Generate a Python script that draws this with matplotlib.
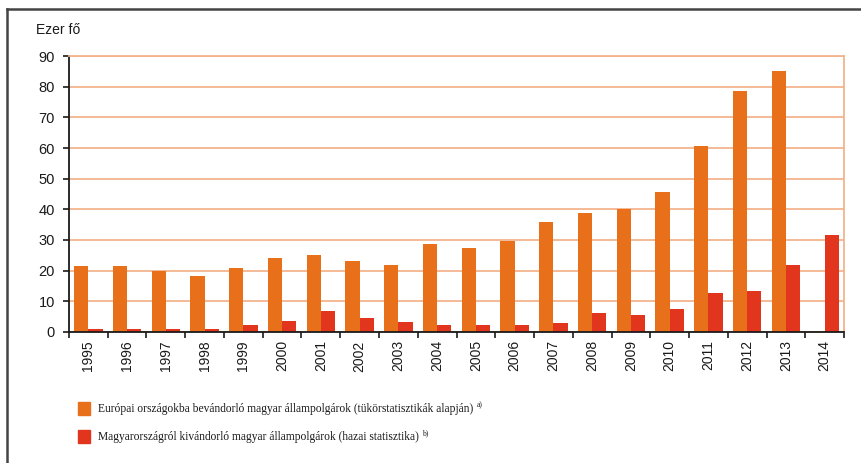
import numpy as np
import matplotlib.pyplot as plt
from matplotlib.patches import Rectangle
from matplotlib.lines import Line2D

years = [str(y) for y in range(1995, 2015)]
# thousand persons
europe_in = [21.5, 21.5, 20.0, 18.3, 20.9, 24.1, 25.2, 23.0, 21.9, 28.6,
             27.4, 29.8, 35.9, 38.7, 40.0, 45.6, 60.6, 78.7, 85.2, np.nan]
hu_out = [1.1, 1.0, 1.0, 1.0, 2.4, 3.7, 6.7, 4.6, 3.3, 2.4,
          2.4, 2.4, 2.8, 6.3, 5.4, 7.6, 12.8, 13.3, 21.9, 31.7]

label_in = 'Európai országokba bevándorló magyar állampolgárok (tükörstatisztikák alapján)'
label_out = 'Magyarországról kivándorló magyar állampolgárok (hazai statisztika)'

orange = '#e9701a'
red = '#e1351e'
grid_col = '#f3b48e'
ink = '#1a1a1a'

fig = plt.figure(figsize=(8.61, 4.63), dpi=100)
ax = fig.add_axes([0.0801, 0.283, 0.9002, 0.596])

x = np.arange(len(years))
w = 0.37
ax.bar(x - w / 2, europe_in, width=w, color=orange, zorder=3)
ax.bar(x + w / 2, hu_out, width=w, color=red, zorder=3)

ax.set_xlim(-0.5, len(years) - 0.5)
ax.set_ylim(0, 90)
ax.set_yticks(np.arange(0, 91, 10))
ax.yaxis.grid(True, color=grid_col, linewidth=1.3, zorder=0)
ax.set_axisbelow(True)

# ticks between the year groups, labels at the group centres
ax.set_xticks(np.arange(-0.5, len(years), 1))
ax.set_xticklabels([])
ax.set_xticks(x, minor=True)
ax.set_xticklabels(years, minor=True, rotation=90, fontsize=10,
                   family='Liberation Sans', color=ink)
ax.tick_params(axis='x', which='major', direction='out', length=4, width=1.2, color=ink)
ax.tick_params(axis='x', which='minor', length=0, pad=6)
ax.tick_params(axis='y', direction='out', length=4, width=1.2, color=ink,
               labelsize=10.5, pad=6)
for t in ax.get_yticklabels():
    t.set_family('Liberation Sans')
    t.set_color(ink)

ax.spines['left'].set_color(ink)
ax.spines['left'].set_linewidth(1.3)
ax.spines['bottom'].set_color(ink)
ax.spines['bottom'].set_linewidth(1.3)
ax.spines['bottom'].set_zorder(4)
ax.spines['top'].set_color(grid_col)
ax.spines['right'].set_color(grid_col)
ax.spines['top'].set_linewidth(1.3)
ax.spines['right'].set_linewidth(1.3)

fig.text(0.042, 0.935, 'Ezer fő', fontsize=10, family='Liberation Sans',
         color=ink, va='center')

# legend rows
for yy, col, lab, sup in [(0.117, orange, label_in, 'a)'), (0.057, red, label_out, 'b)')]:
    fig.patches.append(Rectangle((0.0905, yy - 0.013), 0.0145, 0.027,
                                 transform=fig.transFigure, color=col))
    t = fig.text(0.114, yy, lab, fontsize=8.3, family='Liberation Serif',
                 color=ink, va='center')
    fig.canvas.draw()
    bb = t.get_window_extent()
    fig.text(bb.x1 / fig.bbox.width + 0.004, yy + 0.008, sup, fontsize=5.5,
             family='Liberation Serif', color=ink, va='center')

# outer frame (left and top edges)
fig.add_artist(Line2D([0.0081, 0.0081], [0.0, 0.9806], transform=fig.transFigure,
                      color='#444444', linewidth=1.8))
fig.add_artist(Line2D([0.0081, 1.0], [0.9806, 0.9806], transform=fig.transFigure,
                      color='#444444', linewidth=1.8))

fig.savefig('out.png', dpi=100)
